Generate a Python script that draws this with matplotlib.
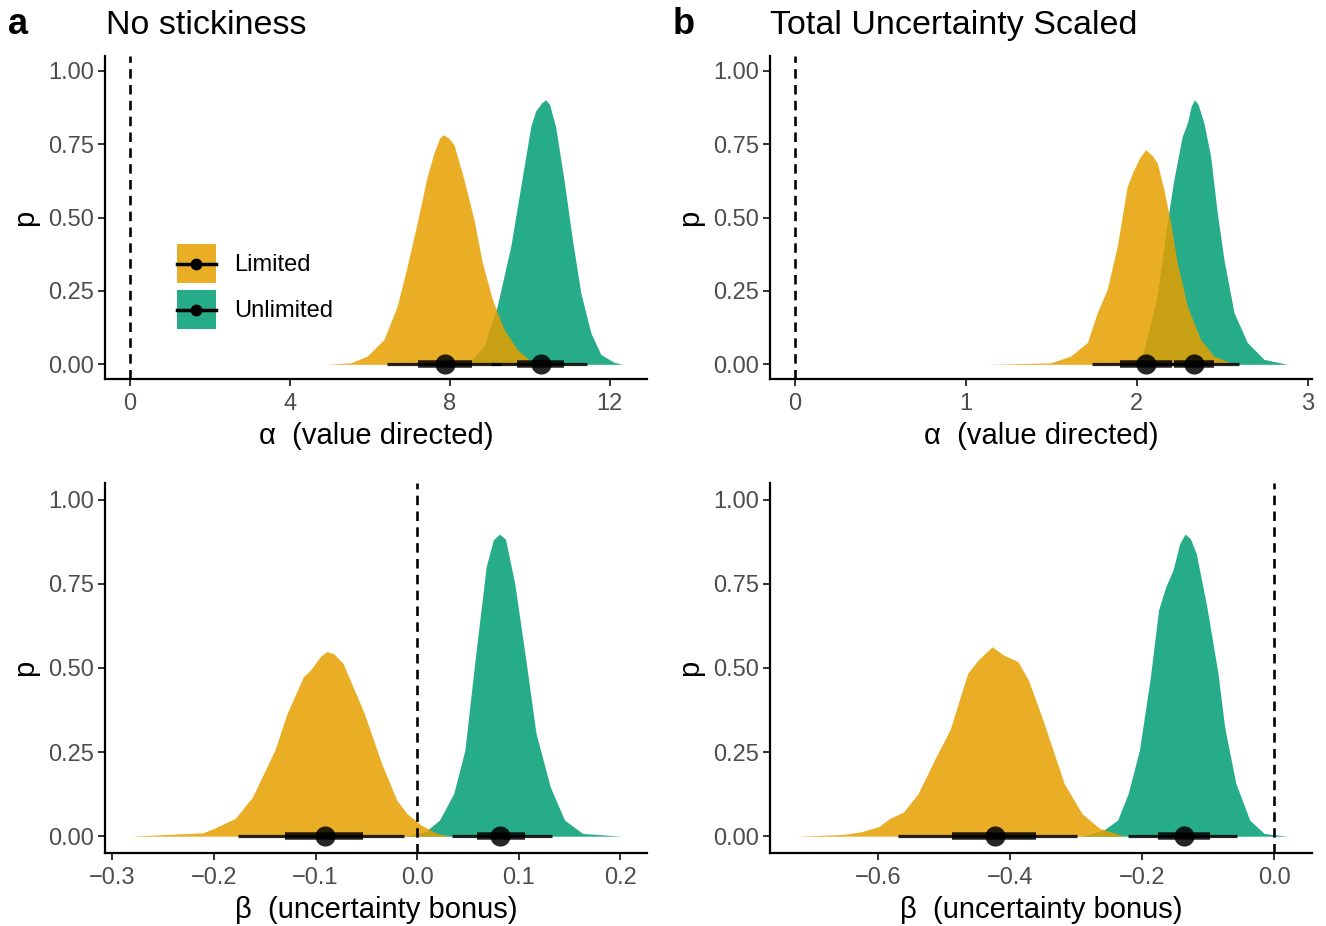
import numpy as np
import matplotlib
matplotlib.use("Agg")
import matplotlib.pyplot as plt
from matplotlib.patches import Patch
from matplotlib.lines import Line2D
from matplotlib.legend_handler import HandlerTuple, HandlerLine2D

plt.rcParams['font.family'] = ['Liberation Sans', 'DejaVu Sans']

# ---- data ----
groups = ['Limited', 'Unlimited']
colors = {'Limited': '#E69F00', 'Unlimited': '#009E73'}

# panel a, alpha
a_alpha_lim_x = [4.90, 5.53, 5.94, 6.36, 6.69, 6.94, 7.19, 7.44, 7.61, 7.75, 7.84, 7.98, 8.11, 8.36, 8.61, 8.82, 9.07, 9.36, 9.69, 10.03, 10.35]
a_alpha_lim_p = [0.0, 0.005, 0.028, 0.085, 0.198, 0.334, 0.482, 0.640, 0.720, 0.770, 0.782, 0.770, 0.748, 0.629, 0.493, 0.346, 0.221, 0.119, 0.051, 0.011, 0.0]
a_alpha_unl_x = [8.44, 8.86, 9.19, 9.53, 9.78, 10.03, 10.15, 10.30, 10.40, 10.50, 10.65, 10.86, 11.07, 11.28, 11.53, 11.78, 12.11, 12.32]
a_alpha_unl_p = [0.0, 0.062, 0.198, 0.402, 0.606, 0.810, 0.862, 0.890, 0.901, 0.885, 0.810, 0.629, 0.425, 0.244, 0.108, 0.034, 0.007, 0.0]

# panel a, beta
a_beta_lim_x = [-0.283, -0.211, -0.200, -0.179, -0.162, -0.140, -0.128, -0.112, -0.105, -0.095, -0.089, -0.082, -0.073, -0.052, -0.035, -0.020, -0.010, 0.004, 0.018, 0.032]
a_beta_lim_p = [0.0, 0.010, 0.023, 0.053, 0.117, 0.256, 0.365, 0.474, 0.494, 0.535, 0.549, 0.542, 0.514, 0.365, 0.216, 0.107, 0.067, 0.033, 0.010, 0.0]
a_beta_unl_x = [-0.013, 0.008, 0.022, 0.036, 0.047, 0.057, 0.068, 0.075, 0.081, 0.087, 0.096, 0.107, 0.117, 0.131, 0.145, 0.163, 0.202]
a_beta_unl_p = [0.0, 0.013, 0.048, 0.127, 0.256, 0.524, 0.802, 0.881, 0.898, 0.883, 0.752, 0.524, 0.306, 0.147, 0.048, 0.008, 0.0]

# panel b, alpha
b_alpha_lim_x = [1.12, 1.497, 1.614, 1.712, 1.770, 1.828, 1.887, 1.945, 1.984, 2.020, 2.053, 2.090, 2.121, 2.160, 2.199, 2.238, 2.297, 2.374, 2.452, 2.570]
b_alpha_lim_p = [0.0, 0.005, 0.028, 0.074, 0.176, 0.255, 0.402, 0.606, 0.663, 0.705, 0.731, 0.712, 0.686, 0.595, 0.482, 0.346, 0.198, 0.085, 0.028, 0.0]
b_alpha_unl_x = [1.945, 2.040, 2.120, 2.179, 2.218, 2.267, 2.297, 2.320, 2.339, 2.360, 2.394, 2.433, 2.472, 2.511, 2.570, 2.648, 2.745, 2.882]
b_alpha_unl_p = [0.0, 0.040, 0.232, 0.482, 0.629, 0.776, 0.822, 0.880, 0.901, 0.885, 0.822, 0.709, 0.516, 0.357, 0.176, 0.074, 0.017, 0.0]

# panel b, beta
b_beta_lim_x = [-0.726, -0.653, -0.626, -0.599, -0.582, -0.561, -0.539, -0.512, -0.491, -0.464, -0.448, -0.427, -0.410, -0.388, -0.372, -0.350, -0.318, -0.291, -0.264, -0.226]
b_beta_lim_p = [0.0, 0.005, 0.013, 0.028, 0.053, 0.072, 0.127, 0.236, 0.315, 0.484, 0.524, 0.563, 0.539, 0.519, 0.464, 0.345, 0.157, 0.067, 0.023, 0.0]
b_beta_unl_x = [-0.291, -0.258, -0.237, -0.221, -0.204, -0.188, -0.175, -0.164, -0.153, -0.143, -0.135, -0.127, -0.118, -0.102, -0.085, -0.075, -0.058, -0.037, -0.015, 0.020]
b_beta_unl_p = [0.0, 0.018, 0.048, 0.127, 0.256, 0.464, 0.673, 0.742, 0.792, 0.870, 0.898, 0.885, 0.841, 0.683, 0.484, 0.325, 0.157, 0.048, 0.008, 0.0]

# point summaries: median, 66% interval, 95% interval
a_alpha_lim_sum = [7.88, 7.21, 8.57, 6.43, 9.28]
a_alpha_unl_sum = [10.28, 9.69, 10.86, 9.03, 11.44]
a_beta_lim_sum = [-0.091, -0.130, -0.053, -0.176, -0.013]
a_beta_unl_sum = [0.082, 0.059, 0.106, 0.034, 0.133]
b_alpha_lim_sum = [2.057, 1.906, 2.209, 1.741, 2.37]
b_alpha_unl_sum = [2.335, 2.218, 2.452, 2.07, 2.597]
b_beta_lim_sum = [-0.423, -0.488, -0.360, -0.569, -0.299]
b_beta_unl_sum = [-0.137, -0.176, -0.097, -0.221, -0.056]

alpha_ticks_a = [0, 4, 8, 12]
alpha_ticks_b = [0, 1, 2, 3]
beta_ticks_a = [-0.3, -0.2, -0.1, 0.0, 0.1, 0.2]
beta_ticks_b = [-0.6, -0.4, -0.2, 0.0]
p_ticks = [0.0, 0.25, 0.5, 0.75, 1.0]

fig = plt.figure(figsize=(13.26, 9.26), dpi=100)
W, H = 1326, 926


def px_axes(x0, y0, x1, y1):
    return fig.add_axes([x0 / W, 1 - y1 / H, (x1 - x0) / W, (y1 - y0) / H])


ax_tl = px_axes(105, 56, 647, 379)
ax_tr = px_axes(770, 56, 1312, 379)
ax_bl = px_axes(105, 483, 647, 853)
ax_br = px_axes(770, 483, 1312, 853)


def draw_panel(ax, lim, unl, lim_sum, unl_sum, ticks, xlabel, ticklabels=None):
    # densities: Unlimited underneath, Limited on top
    ax.fill_between(unl[0], 0, unl[1], color=colors['Unlimited'], alpha=0.85, lw=0, zorder=1)
    ax.fill_between(lim[0], 0, lim[1], color=colors['Limited'], alpha=0.85, lw=0, zorder=2)
    ax.axvline(0, color='black', lw=1.9, ls=(0, (3.6, 2.4)), zorder=3)
    for s in [unl_sum, lim_sum]:
        ax.plot([s[3], s[4]], [0, 0], color='black', lw=2.3, alpha=0.85,
                solid_capstyle='butt', zorder=4)
        ax.plot([s[1], s[2]], [0, 0], color='black', lw=5.4, alpha=0.85,
                solid_capstyle='butt', zorder=5)
        ax.plot([s[0]], [0], 'o', color='black', ms=14.5, alpha=0.85, mew=0, zorder=6)

    xs = list(lim[0]) + list(unl[0]) + [0]
    lo, hi = min(xs), max(xs)
    pad = 0.05 * (hi - lo)
    ax.set_xlim(lo - pad, hi + pad)
    ax.set_ylim(-0.05, 1.05)
    ax.set_xticks(ticks)
    if ticklabels is not None:
        ax.set_xticklabels(ticklabels)
    ax.set_yticks(p_ticks)
    ax.set_yticklabels(['0.00', '0.25', '0.50', '0.75', '1.00'])
    for sp in ['top', 'right']:
        ax.spines[sp].set_visible(False)
    for sp in ['left', 'bottom']:
        ax.spines[sp].set_linewidth(1.6)
        ax.spines[sp].set_color('black')
    ax.tick_params(axis='both', length=5, width=1.4, color='#333333',
                   labelsize=17, labelcolor='#4D4D4D', pad=3)
    ax.tick_params(axis='x', pad=5)
    ax.set_xlabel(xlabel, fontsize=21, labelpad=5)
    ax.set_ylabel('p', fontsize=21, labelpad=6)


def minus_labels(vals):
    return [('\u2212' if v < 0 else '') + f'{abs(v):.1f}' for v in vals]


draw_panel(ax_tl, (a_alpha_lim_x, a_alpha_lim_p), (a_alpha_unl_x, a_alpha_unl_p),
           a_alpha_lim_sum, a_alpha_unl_sum, alpha_ticks_a, '\u03b1  (value directed)')
draw_panel(ax_tr, (b_alpha_lim_x, b_alpha_lim_p), (b_alpha_unl_x, b_alpha_unl_p),
           b_alpha_lim_sum, b_alpha_unl_sum, alpha_ticks_b, '\u03b1  (value directed)')
draw_panel(ax_bl, (a_beta_lim_x, a_beta_lim_p), (a_beta_unl_x, a_beta_unl_p),
           a_beta_lim_sum, a_beta_unl_sum, beta_ticks_a, '\u03b2  (uncertainty bonus)',
           minus_labels(beta_ticks_a))
draw_panel(ax_br, (b_beta_lim_x, b_beta_lim_p), (b_beta_unl_x, b_beta_unl_p),
           b_beta_lim_sum, b_beta_unl_sum, beta_ticks_b, '\u03b2  (uncertainty bonus)',
           minus_labels(beta_ticks_b))


class CenteredLine(HandlerLine2D):
    # put the key line in the middle of the filled box
    def create_artists(self, legend, orig_handle, xdescent, ydescent,
                       width, height, fontsize, trans):
        arts = super().create_artists(legend, orig_handle, xdescent, ydescent,
                                      width, height, fontsize, trans)
        for a in arts:
            xd = np.asarray(a.get_xdata(), dtype=float)
            a.set_ydata(np.full_like(xd, height / 2 - ydescent))
        return arts


# legend in panel a
handles = []
for g in groups:
    box = Patch(facecolor=colors[g], alpha=0.85, edgecolor='none')
    ln = Line2D([0], [0], color='black', lw=2.5, marker='o', ms=7.5)
    handles.append((box, ln))
ax_tl.legend(handles, groups,
             handler_map={tuple: HandlerTuple(ndivide=1), Line2D: CenteredLine()},
             loc='upper left', bbox_to_anchor=(177 / W, 1 - 244 / H),
             bbox_transform=fig.transFigure, frameon=False, fontsize=17,
             handlelength=1.65, handleheight=2.165, labelspacing=0.3,
             handletextpad=0.75, borderpad=0, borderaxespad=0)

# titles
fig.text(8 / W, 1 - 34 / H, 'a', fontsize=26, fontweight='bold', va='baseline')
fig.text(106 / W, 1 - 34 / H, 'No stickiness', fontsize=24.5, va='baseline')
fig.text(673 / W, 1 - 34 / H, 'b', fontsize=26, fontweight='bold', va='baseline')
fig.text(770 / W, 1 - 34 / H, 'Total Uncertainty Scaled', fontsize=24.5, va='baseline')

fig.savefig('out.png', dpi=100)
